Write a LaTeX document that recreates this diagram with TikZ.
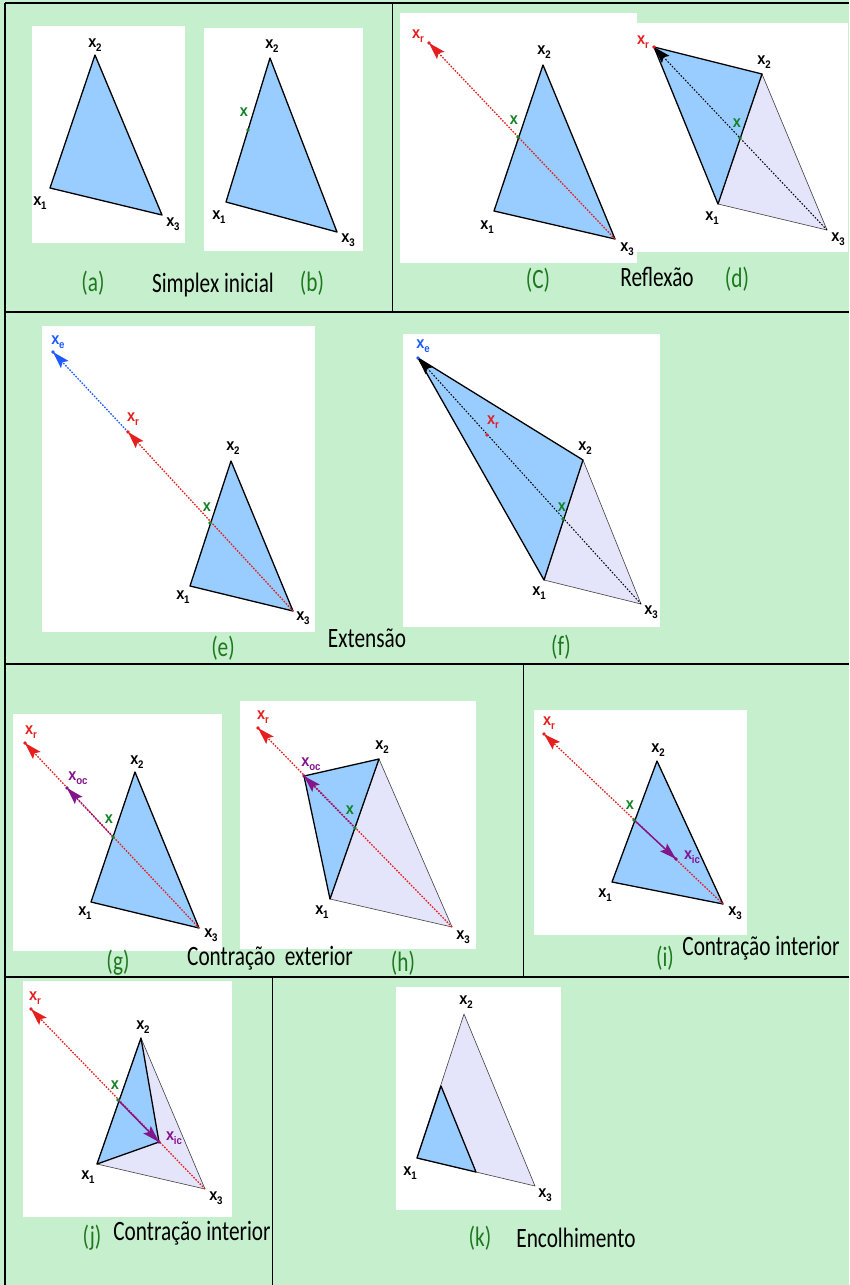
\documentclass[tikz,border=0pt]{standalone}
\usepackage{fontspec}
\usepackage{graphicx}
\usetikzlibrary{calc}
\newfontfamily\capfont{Carlito}[FakeStretch=0.76]
\newfontfamily\labfont{Liberation Sans}[FakeStretch=0.88]
\definecolor{bggreen}{RGB}{198,239,206}
\definecolor{triblue}{RGB}{153,204,255}
\definecolor{lav}{RGB}{228,228,250}
\definecolor{xred}{RGB}{230,30,30}
\definecolor{xgreen}{RGB}{20,130,40}
\definecolor{xpurple}{RGB}{130,20,140}
\definecolor{xblue}{RGB}{30,90,255}
\definecolor{capgreen}{RGB}{30,120,30}
\newcommand{\xsub}[1]{x\kern-0.2pt\raisebox{-3.4pt}{\fontsize{11}{11}\selectfont #1}}
\newcommand{\headat}[3]{\fill[#1] (#3) -- ($(#3)!18pt!17:(#2)$) -- ($(#3)!14pt!(#2)$) -- ($(#3)!18pt!-17:(#2)$) -- cycle;}
\tikzset{
  wbox/.style={fill=white,draw=none},
  tri/.style={fill=triblue,draw=black,line width=1.3pt,line join=round},
  ghost/.style={fill=lav,draw=black!75,line width=0.6pt,line join=round},
  lab/.style={font=\labfont\bfseries\fontsize{16.5}{16.5}\selectfont,inner sep=0pt},
  glab/.style={lab,text=xgreen},
  rlab/.style={lab,text=xred},
  plab/.style={lab,text=xpurple},
  blab/.style={lab,text=xblue},
  captxt/.style={font=\capfont\fontsize{28}{28}\selectfont,inner sep=0pt},
  gcaptxt/.style={captxt,text=capgreen},
  redl/.style={draw=xred,line width=1.3pt,dash pattern=on 1.6pt off 1.4pt},
  bluel/.style={draw=xblue,line width=1.3pt,dash pattern=on 1.6pt off 1.4pt},
  blackl/.style={draw=black,line width=1pt,dash pattern=on 1.6pt off 1.6pt},
  purl/.style={draw=xpurple,line width=1.3pt,dash pattern=on 1.6pt off 1.4pt},
  purs/.style={draw=xpurple,line width=1.4pt},
  frame/.style={draw=black,line width=1.6pt}
}
\begin{document}
\begin{tikzpicture}[x=1pt,y=-1pt]
\useasboundingbox (0,0) rectangle (849,1285);
\fill[bggreen] (0,0) rectangle (849,1285);
% frame lines
\coordinate (tl) at (5,3); \coordinate (tr) at (849,3);
\coordinate (bl) at (5,1285);
\coordinate (r1l) at (5,312); \coordinate (r1r) at (849,312);
\coordinate (r2l) at (5,664); \coordinate (r2r) at (849,664);
\coordinate (r3l) at (5,977); \coordinate (r3r) at (849,977);
\coordinate (v1a) at (392,3); \coordinate (v1b) at (392,312);
\coordinate (v2a) at (523,664); \coordinate (v2b) at (523,977);
\coordinate (v3a) at (272,977); \coordinate (v3b) at (272,1285);
\draw[frame,line width=2.2pt] (tl) -- (tr);
\draw[frame] (tl) -- (bl);
\draw[frame] (r1l) -- (r1r);
\draw[frame] (r2l) -- (r2r);
\draw[frame] (r3l) -- (r3r);
\draw[frame,line width=1pt] (v1a) -- (v1b);
\draw[frame,line width=1pt] (v2a) -- (v2b);
\draw[frame,line width=1pt] (v3a) -- (v3b);

% ---------- (a)
\fill[wbox] (32,26) rectangle (185,243);
\coordinate (a1) at (50,188); \coordinate (a2) at (95,55); \coordinate (a3) at (162,215);
\filldraw[tri] (a1) -- (a2) -- (a3) -- cycle;
\node[lab] (la2) at (95,45) {\xsub{2}};
\node[lab] (la1) at (40,203) {\xsub{1}};
\node[lab] (la3) at (173,224) {\xsub{3}};

% ---------- (b)
\fill[wbox] (204,28) rectangle (363,251);
\coordinate (b1) at (226,202); \coordinate (b2) at (270,58); \coordinate (b3) at (337,232);
\coordinate (bx) at (248,130);
\filldraw[tri] (b1) -- (b2) -- (b3) -- cycle;
\fill[xgreen] (bx) circle (1.9pt);
\node[lab] (lb2) at (272,46) {\xsub{2}};
\node[lab] (lb1) at (219,217) {\xsub{1}};
\node[lab] (lb3) at (348,240) {\xsub{3}};
\node[glab] (lbx) at (244,112) {x};

\node[gcaptxt] (capa) at (93,283) {(a)};
\node[captxt] (capab) at (213,285) {Simplex inicial};
\node[gcaptxt] (capb) at (312,283) {(b)};

% ---------- (c)
\fill[wbox] (400,13) rectangle (637,263);
\coordinate (c1) at (494,211); \coordinate (c2) at (543,65); \coordinate (c3) at (615,239);
\coordinate (cx) at (518,137); \coordinate (cr) at (429,43);
\filldraw[tri] (c1) -- (c2) -- (c3) -- cycle;
\draw[redl] (c3) -- (cr);
\headat{xred}{c3}{cr}
\fill[xred] (cr) circle (1.9pt);
\fill[xgreen] (cx) circle (1.9pt);
\node[rlab] (lcr) at (418,36) {\xsub{r}};
\node[lab] (lc2) at (544,52) {\xsub{2}};
\node[glab] (lcx) at (514,120) {x};
\node[lab] (lc1) at (487,227) {\xsub{1}};
\node[lab] (lc3) at (627,249) {\xsub{3}};

% ---------- (d)
\fill[wbox] (637,23) rectangle (848,252);
\coordinate (d1) at (718,204); \coordinate (d2) at (762,74); \coordinate (d3) at (827,230);
\coordinate (dx) at (740,138); \coordinate (dr) at (654,47);
\filldraw[ghost] (d1) -- (d2) -- (d3) -- cycle;
\filldraw[tri] (dr) -- (d2) -- (d1) -- cycle;
\draw[blackl] (d3) -- (dr);
\headat{black}{d3}{dr}
\fill[xred] (dr) circle (1.9pt);
\fill[xgreen] (dx) circle (1.9pt);
\node[rlab] (ldr) at (643,42) {\xsub{r}};
\node[lab] (ld2) at (764,62) {\xsub{2}};
\node[glab] (ldx) at (737,123) {x};
\node[lab] (ld1) at (712,218) {\xsub{1}};
\node[lab] (ld3) at (838,239) {\xsub{3}};

\node[gcaptxt] (capc) at (538,280) {(C)};
\node[captxt] (capcd) at (657,277) {Reflexão};
\node[gcaptxt] (capd) at (737,279) {(d)};

% ---------- (e)
\fill[wbox] (42,326) rectangle (315,632);
\coordinate (e1) at (190,586); \coordinate (e2) at (231,461); \coordinate (e3) at (293,611);
\coordinate (ex) at (210,523); \coordinate (er) at (128,432); \coordinate (ee) at (53,352);
\filldraw[tri] (e1) -- (e2) -- (e3) -- cycle;
\draw[bluel] (er) -- (ee);
\headat{xblue}{er}{ee}
\draw[redl] (e3) -- (er);
\headat{xred}{e3}{er}
\fill[xblue] (ee) circle (1.9pt);
\fill[xred] (er) circle (1.9pt);
\fill[xgreen] (ex) circle (1.9pt);
\node[blab] (lee) at (58,342) {\xsub{e}};
\node[rlab] (ler) at (133,419) {\xsub{r}};
\node[lab] (le2) at (233,448) {\xsub{2}};
\node[glab] (lex) at (207,507) {x};
\node[lab] (le1) at (183,597) {\xsub{1}};
\node[lab] (le3) at (303,618) {\xsub{3}};

% ---------- (f)
\fill[wbox] (403,334) rectangle (660,627);
\coordinate (f1) at (544,580); \coordinate (f2) at (583,460); \coordinate (f3) at (641,604);
\coordinate (fx) at (563,519); \coordinate (fr) at (487,435); \coordinate (fe) at (418,358);
\filldraw[ghost] (f1) -- (f2) -- (f3) -- cycle;
\filldraw[tri] (fe) -- (f2) -- (f1) -- cycle;
\draw[blackl] (f3) -- (fe);
\headat{black}{f3}{fe}
\fill[xblue] (fe) circle (1.9pt);
\fill[xred] (fr) circle (1.9pt);
\fill[xgreen] (fx) circle (1.9pt);
\node[blab] (lfe) at (423,346) {\xsub{e}};
\node[rlab] (lfr) at (493,422) {\xsub{r}};
\node[lab] (lf2) at (585,448) {\xsub{2}};
\node[glab] (lfx) at (562,507) {x};
\node[lab] (lf1) at (539,593) {\xsub{1}};
\node[lab] (lf3) at (651,612) {\xsub{3}};

\node[gcaptxt] (cape) at (223,648) {(e)};
\node[captxt] (capef) at (367,638) {Extensão};
\node[gcaptxt] (capf) at (561,647) {(f)};

% ---------- (g)
\fill[wbox] (13,714) rectangle (222,951);
\coordinate (g1) at (91,902); \coordinate (g2) at (135,772); \coordinate (g3) at (199,928);
\coordinate (gx) at (113,837); \coordinate (gr) at (25,743); \coordinate (goc) at (67,788);
\filldraw[tri] (g1) -- (g2) -- (g3) -- cycle;
\draw[redl] (g3) -- (gr);
\headat{xred}{g3}{gr}
\draw[purl] (gx) -- (goc);
\headat{xpurple}{gx}{goc}
\fill[xred] (gr) circle (1.9pt);
\fill[xpurple] (goc) circle (1.9pt);
\fill[xgreen] (gx) circle (1.9pt);
\node[rlab] (lgr) at (31,732) {\xsub{r}};
\node[plab] (lgoc) at (78,778) {\xsub{oc}};
\node[lab] (lg2) at (137,762) {\xsub{2}};
\node[glab] (lgx) at (109,819) {x};
\node[lab] (lg1) at (85,913) {\xsub{1}};
\node[lab] (lg3) at (211,935) {\xsub{3}};

% ---------- (h)
\fill[wbox] (240,701) rectangle (476,949);
\coordinate (h1) at (330,899); \coordinate (h2) at (379,759); \coordinate (h3) at (452,927);
\coordinate (hx) at (355,828); \coordinate (hr) at (258,728); \coordinate (hoc) at (304,776);
\filldraw[ghost] (h1) -- (h2) -- (h3) -- cycle;
\filldraw[tri] (hoc) -- (h2) -- (h1) -- cycle;
\draw[redl] (h3) -- (hr);
\headat{xred}{h3}{hr}
\draw[purl] (hx) -- (hoc);
\headat{xpurple}{hx}{hoc}
\fill[xred] (hr) circle (1.9pt);
\fill[xpurple] (hoc) circle (1.9pt);
\fill[xgreen] (hx) circle (1.9pt);
\node[rlab] (lhr) at (263,717) {\xsub{r}};
\node[plab] (lhoc) at (311,764) {\xsub{oc}};
\node[lab] (lh2) at (382,747) {\xsub{2}};
\node[glab] (lhx) at (350,810) {x};
\node[lab] (lh1) at (322,912) {\xsub{1}};
\node[lab] (lh3) at (463,937) {\xsub{3}};

\node[gcaptxt] (capg) at (118,963) {(g)};
\node[captxt] (capgh) at (270,958) {Contração\ \ exterior};
\node[gcaptxt] (caph) at (403,963) {(h)};

% ---------- (i)
\fill[wbox] (534,710) rectangle (747,935);
\coordinate (i1) at (612,882); \coordinate (i2) at (657,761); \coordinate (i3) at (723,904);
\coordinate (ix) at (634,820); \coordinate (ir) at (544,734); \coordinate (iic) at (676,859);
\filldraw[tri] (i1) -- (i2) -- (i3) -- cycle;
\draw[redl] (i3) -- (ir);
\headat{xred}{i3}{ir}
\draw[purs] (ix) -- (iic);
\headat{xpurple}{ix}{iic}
\fill[xred] (ir) circle (1.9pt);
\fill[xpurple] (iic) circle (1.9pt);
\fill[xgreen] (ix) circle (1.9pt);
\node[rlab] (lir) at (549,723) {\xsub{r}};
\node[lab] (li2) at (658,750) {\xsub{2}};
\node[glab] (lix) at (630,805) {x};
\node[plab] (liic) at (692,857) {\xsub{ic}};
\node[lab] (li1) at (605,895) {\xsub{1}};
\node[lab] (li3) at (735,913) {\xsub{3}};

\node[gcaptxt] (capi) at (665,958) {(i)};
\node[captxt] (capii) at (761,948) {Contração interior};

% ---------- (j)
\fill[wbox] (23,981) rectangle (232,1217);
\coordinate (j1) at (97,1164); \coordinate (j2) at (141,1038); \coordinate (j3) at (205,1189);
\coordinate (jx) at (118,1100); \coordinate (jr) at (31,1009); \coordinate (jic) at (159,1142);
\filldraw[ghost] (j1) -- (j2) -- (j3) -- cycle;
\filldraw[tri] (j1) -- (j2) -- (jic) -- cycle;
\draw[redl] (j3) -- (jr);
\headat{xred}{j3}{jr}
\draw[purs] (jx) -- (jic);
\headat{xpurple}{jx}{jic}
\fill[xred] (jr) circle (1.9pt);
\fill[xpurple] (jic) circle (1.9pt);
\fill[xgreen] (jx) circle (1.9pt);
\node[rlab] (ljr) at (35,998) {\xsub{r}};
\node[lab] (lj2) at (143,1027) {\xsub{2}};
\node[glab] (ljx) at (115,1085) {x};
\node[plab] (ljic) at (174,1138) {\xsub{ic}};
\node[lab] (lj1) at (88,1177) {\xsub{1}};
\node[lab] (lj3) at (216,1198) {\xsub{3}};

\node[gcaptxt] (capj) at (92,1238) {(j)};
\node[captxt] (capjj) at (192,1233) {Contração interior};

% ---------- (k)
\fill[wbox] (396,987) rectangle (561,1210);
\coordinate (k1) at (417,1158); \coordinate (k2) at (464,1014); \coordinate (k3) at (535,1186);
\coordinate (k12) at (441,1086); \coordinate (k13) at (476,1172);
\filldraw[ghost] (k1) -- (k2) -- (k3) -- cycle;
\filldraw[tri] (k1) -- (k12) -- (k13) -- cycle;
\node[lab] (lk2) at (466,1002) {\xsub{2}};
\node[lab] (lk1) at (410,1173) {\xsub{1}};
\node[lab] (lk3) at (545,1195) {\xsub{3}};

\node[gcaptxt] (capk) at (480,1238) {(k)};
\node[captxt] (capkk) at (576,1238) {Encolhimento};
\end{tikzpicture}
\end{document}
